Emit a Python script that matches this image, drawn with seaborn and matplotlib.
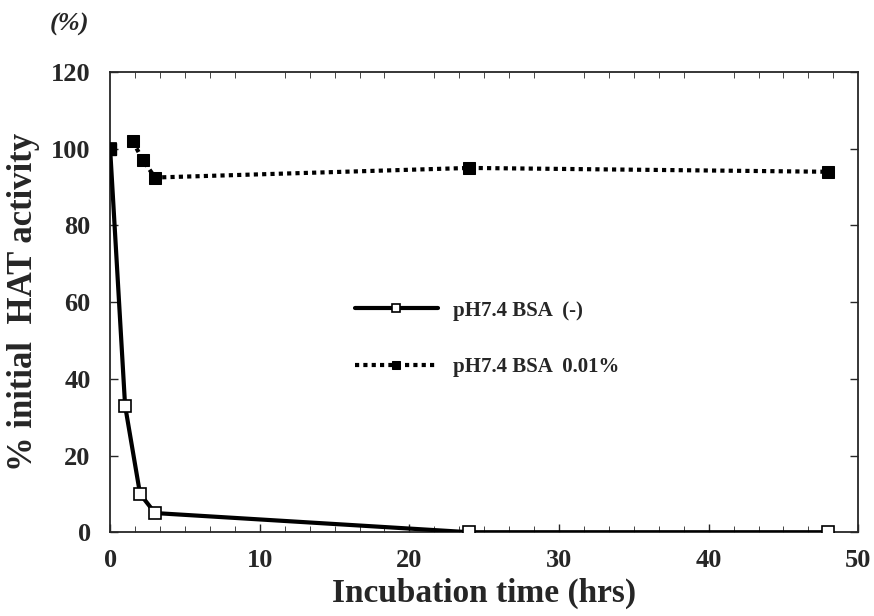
import seaborn as sns
from matplotlib import pyplot as plt
from matplotlib.ticker import MultipleLocator
import pandas as pd

sns.set_style('ticks')
plt.rcParams['font.family'] = ['Liberation Serif', 'DejaVu Serif']
plt.rcParams['font.weight'] = 'bold'

# incubation time (hrs) and % initial HAT activity
no_bsa_t = [0, 1, 2, 3, 24, 48]
no_bsa_y = [100, 33, 10, 5, 0, 0]
bsa_t = [0, 1.5, 2.2, 3, 24, 48]
bsa_y = [100, 102, 97, 92.5, 95, 94]

label_no_bsa = 'pH7.4 BSA  (-)'
label_bsa = 'pH7.4 BSA  0.01%'

df1 = pd.DataFrame({'t': no_bsa_t, 'y': no_bsa_y})
df2 = pd.DataFrame({'t': bsa_t, 'y': bsa_y})

fig = plt.figure(figsize=(8.74, 6.16), dpi=100)
ax = fig.add_axes([0.126, 0.136, 0.856, 0.747])

sns.lineplot(data=df1, x='t', y='y', ax=ax, color='black', lw=3,
             marker='s', markersize=9, markerfacecolor='white',
             markeredgecolor='black', markeredgewidth=1.2, label=label_no_bsa, zorder=3)
sns.lineplot(data=df2.iloc[1:], x='t', y='y', ax=ax, color='black', lw=3,
             linestyle=(0, (1, 1)), marker='s', markersize=9,
             markerfacecolor='black', markeredgecolor='black', label=label_bsa, zorder=4)
ax.plot(df2.t.iloc[:1], df2.y.iloc[:1], 's', color='black', markersize=9, zorder=5)

ax.set_xlim(0, 50)
ax.set_ylim(0, 120)
ax.xaxis.set_major_locator(MultipleLocator(10))
ax.yaxis.set_major_locator(MultipleLocator(20))
ax.tick_params(axis='both', which='major', direction='in', length=6, width=1,
               labelsize=19)
ax.tick_params(axis='y', right=True, direction='in', pad=14)
ax.tick_params(axis='x', which='major', top=False, pad=12)
ax.xaxis.set_minor_locator(MultipleLocator(10 / 6))
ax.tick_params(axis='x', which='minor', direction='in', length=4, top=True, bottom=True)
for sp in ax.spines.values():
    sp.set_visible(True)
    sp.set_linewidth(1.3)

ax.set_xlabel('Incubation time (hrs)', fontsize=24, fontweight='bold', labelpad=4)
ax.set_ylabel('% initial  HAT activity', fontsize=25, fontweight='bold', labelpad=8)
fig.text(0.079, 0.96, '(%)', fontsize=19, style='italic', ha='center', va='center')

leg = ax.legend(loc='center left', bbox_to_anchor=(0.302, 0.42), frameon=False,
                fontsize=15, handlelength=4.0, labelspacing=1.75, markerscale=0.7,
                handletextpad=0.7)

plt.savefig('out.png', dpi=100)
